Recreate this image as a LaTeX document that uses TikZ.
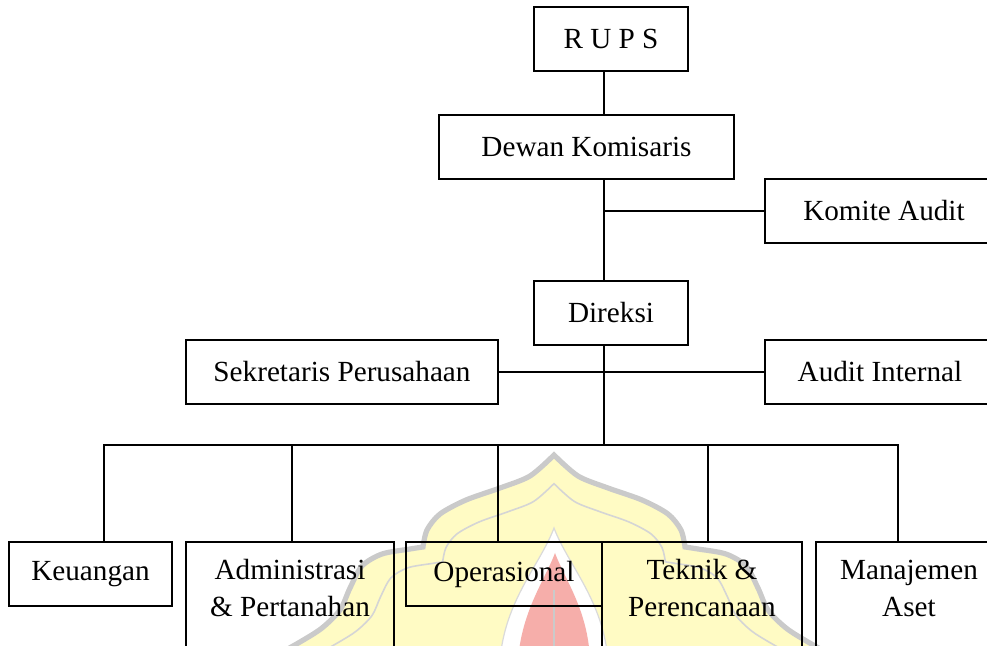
\documentclass[tikz,border=0pt]{standalone}
\usepackage{fontspec}
\setmainfont{Liberation Serif}
\usepackage{xcolor}
\usepackage{tikz}
\usetikzlibrary{positioning,calc}
\definecolor{wmyellow}{RGB}{255,251,196}
\definecolor{wmgray}{RGB}{202,202,202}
\definecolor{wmred}{RGB}{246,174,170}

\newcommand{\gununganpath}{%
  plot[smooth] coordinates {(268,660) (300,642) (322,628) (340,610) (350,588) (362,566) (382,554) (410,549) (423,547)}
  -- plot[smooth] coordinates {(423,547) (427,530) (440,514) (466,500) (500,488) (530,476) (554,455)}
  -- plot[smooth] coordinates {(554,455) (578,476) (608,488) (642,500) (668,514) (681,530) (685,547)}
  -- plot[smooth] coordinates {(685,547) (698,549) (726,554) (746,566) (758,588) (768,610) (786,628) (808,642) (840,660)}}

\begin{document}
\begin{tikzpicture}[x=0.5pt, y=-0.5pt,
    box/.style={draw, line width=1.1pt, outer sep=0pt, inner sep=0pt, anchor=north west,
      minimum height=32pt, align=flush center, font=\fontsize{14.6}{18.5}\selectfont},
    tallbox/.style={box, text width=#1, text height=19pt, text depth=60pt},
    link/.style={line width=1.1pt, line cap=rect}
  ]
  \path[use as bounding box, clip] (0,0) rectangle (987,646);
  % watermark
  \fill[wmyellow] \gununganpath -- (840,700) -- (268,700) -- cycle;
  \draw[wmgray, line width=2.6pt] \gununganpath;
  \draw[wmgray!80, line width=0.8pt, scale around={0.85:(554,646)}] \gununganpath;
  \filldraw[fill=white, draw=wmgray!70, line width=0.6pt] (500,660) .. controls (505,600) and (540,565) .. (554,528)
    .. controls (568,565) and (603,600) .. (608,660) -- cycle;
  \fill[wmred] (518,660) .. controls (522,610) and (545,580) .. (555,553)
    .. controls (565,580) and (588,610) .. (590,660) -- cycle;
  \draw[wmgray, line width=1pt] (554,590) -- (554,660);

  \node[box, minimum width=77pt] (rups) at (534,7) {R U P S};
  \node[box, minimum width=147.5pt] (dewan) at (439,115) {Dewan Komisaris};
  \node[box, minimum width=119pt] (komite) at (765,179) {Komite Audit};
  \node[box, minimum width=77pt] (direksi) at (534,281) {Direksi};
  \node[box, minimum width=156pt] (sekretaris) at (186,340) {Sekretaris Perusahaan};
  \node[box, minimum width=115pt] (audit) at (765,340) {Audit Internal};
  \node[box, minimum width=81.5pt] (keu) at (9,542) {Keuangan};
  \node[tallbox=104pt] (adm) at (186,542) {Administrasi\\\& Pertanahan};
  \node[box, minimum width=98pt] (ops) at (406,542) {Operasional};
  \node[tallbox=100pt] (tek) at (602,542) {Teknik \&\\Perencanaan};
  \node[tallbox=93pt] (man) at (816,542) {Manajemen\\Aset};

  \coordinate (axis) at (604,0);
  \draw[link] (rups.south -| axis) -- (dewan.north -| axis);
  \draw[link] (dewan.south -| axis) -- (direksi.north -| axis);
  \draw[link] (komite.west) -- (komite.west -| axis);
  \draw[link] (sekretaris.east) -- (audit.west);
  \foreach \x/\unit in {104/keu, 292/adm, 498/ops, 708/tek, 898/man} {
    \coordinate (drop-\unit) at (\x,445);
    \draw[link] (drop-\unit) -- (drop-\unit |- \unit.north);
  }
  \draw[link] (drop-keu) -- (drop-man);
  \draw[link] (direksi.south -| axis) -- (drop-keu -| axis);
\end{tikzpicture}
\end{document}
